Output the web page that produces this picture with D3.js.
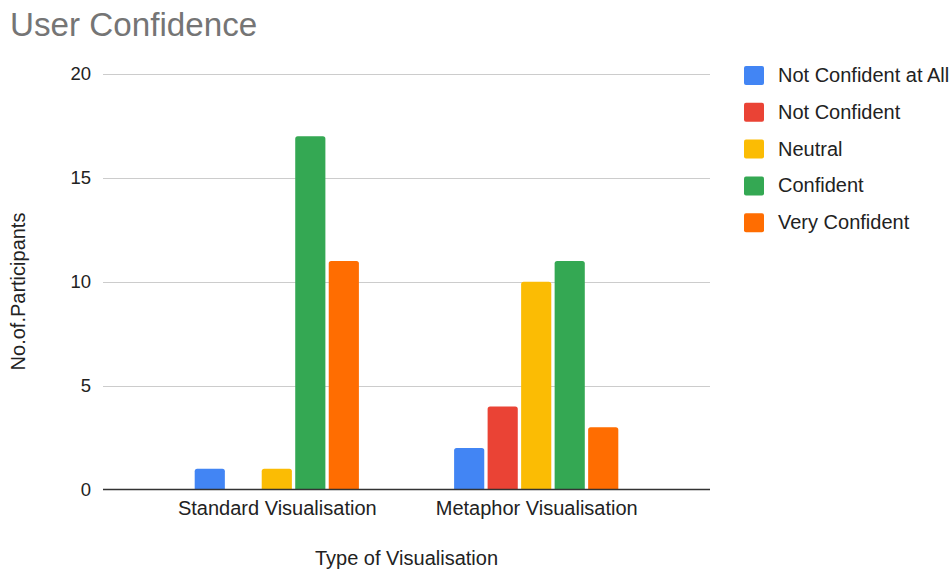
<!DOCTYPE html>
<html>
<head>
<meta charset="utf-8">
<script src="https://cdn.jsdelivr.net/npm/d3@7/dist/d3.min.js"></script>
<style>
  html, body { margin: 0; padding: 0; background: #fff; }
  svg { display: block; font-family: "Liberation Sans", Arial, sans-serif; }
</style>
</head>
<body>
<svg id="chart" width="952" height="571"></svg>
<script>
// Survey answers per visualisation type
const categories = ["Standard Visualisation", "Metaphor Visualisation"];
const seriesNames = ["Not Confident at All", "Not Confident", "Neutral", "Confident", "Very Confident"];
const seriesColors = ["#4285F4", "#EA4335", "#FBBC04", "#34A853", "#FF6D01"];
const notConfidentAtAll = [1, 2];
const notConfident = [0, 4];
const neutral = [1, 10];
const confident = [17, 11];
const veryConfident = [11, 3];
const yTicks = [0, 5, 10, 15, 20];

const seriesValues = [notConfidentAtAll, notConfident, neutral, confident, veryConfident];

const svg = d3.select("#chart");
const margin = { left: 103, right: 242, top: 74, bottom: 81.5 };
const W = 952, H = 571;

const y = d3.scaleLinear().domain([0, 20]).range([H - margin.bottom, margin.top]);
const x0 = d3.scalePoint().domain(categories).range([margin.left, W - margin.right]).padding(0.67);
const x1 = d3.scaleBand().domain(seriesNames).range([-82.1, 82.1]).paddingInner(0.1);

// Gridlines
svg.append("g")
  .selectAll("line")
  .data(yTicks.filter(t => t !== 0))
  .join("line")
  .attr("x1", margin.left).attr("x2", W - margin.right)
  .attr("y1", d => Math.round(y(d)) + 0.5).attr("y2", d => Math.round(y(d)) + 0.5)
  .attr("stroke", "#cccccc").attr("stroke-width", 1);

// Y tick labels
const yAxis = d3.axisLeft(y).tickValues(yTicks).tickSize(0).tickPadding(12);
const gy = svg.append("g").attr("transform", `translate(${margin.left},0)`).call(yAxis);
gy.select(".domain").remove();
gy.selectAll("text").attr("font-size", 18.5).attr("fill", "#222").attr("font-family", "Liberation Sans, Arial, sans-serif");

// Rounded-top bar path
function barPath(x, yTop, w, h, r) {
  if (h <= 0) return "";
  r = Math.min(r, h, w / 2);
  return `M${x},${yTop + h}V${yTop + r}Q${x},${yTop} ${x + r},${yTop}H${x + w - r}Q${x + w},${yTop} ${x + w},${yTop + r}V${yTop + h}Z`;
}

const barData = [];
categories.forEach((c, ci) => {
  seriesNames.forEach((s, si) => {
    barData.push({ cat: c, series: s, value: seriesValues[si][ci], color: seriesColors[si] });
  });
});

svg.append("g")
  .selectAll("path")
  .data(barData.filter(d => d.value > 0))
  .join("path")
  .attr("d", d => {
    const bx = x0(d.cat) + x1(d.series);
    return barPath(bx, y(d.value), x1.bandwidth(), y(0) - y(d.value), 2.5);
  })
  .attr("fill", d => d.color);

// Baseline
svg.append("line")
  .attr("x1", margin.left).attr("x2", W - margin.right)
  .attr("y1", y(0)).attr("y2", y(0))
  .attr("stroke", "#333").attr("stroke-width", 1.5);

// X axis category labels
const xAxis = d3.axisBottom(x0).tickSize(0).tickPadding(11);
const gx = svg.append("g").attr("transform", `translate(0,${y(0)})`).call(xAxis);
gx.select(".domain").remove();
gx.selectAll("text").attr("font-size", 20).attr("fill", "#222").attr("font-family", "Liberation Sans, Arial, sans-serif");

// Axis titles
svg.append("text")
  .attr("x", (margin.left + W - margin.right) / 2).attr("y", 565)
  .attr("text-anchor", "middle").attr("font-size", 20).attr("fill", "#222")
  .text("Type of Visualisation");

svg.append("text")
  .attr("transform", `translate(25,291.5) rotate(-90)`)
  .attr("text-anchor", "middle").attr("font-size", 20).attr("fill", "#222")
  .text("No.of.Participants");

// Title
svg.append("text")
  .attr("x", 10).attr("y", 36)
  .attr("font-size", 33.2).attr("fill", "#757575")
  .text("User Confidence");

// Legend
const legend = svg.append("g").attr("transform", "translate(744,66)");
const items = legend.selectAll("g")
  .data(seriesNames)
  .join("g")
  .attr("transform", (d, i) => `translate(0,${i * 36.8})`);
items.append("rect")
  .attr("width", 20).attr("height", 19).attr("rx", 2)
  .attr("fill", (d, i) => seriesColors[i]);
items.append("text")
  .attr("x", 34).attr("y", 16)
  .attr("font-size", 20).attr("fill", "#222")
  .text(d => d);
</script>
</body>
</html>
